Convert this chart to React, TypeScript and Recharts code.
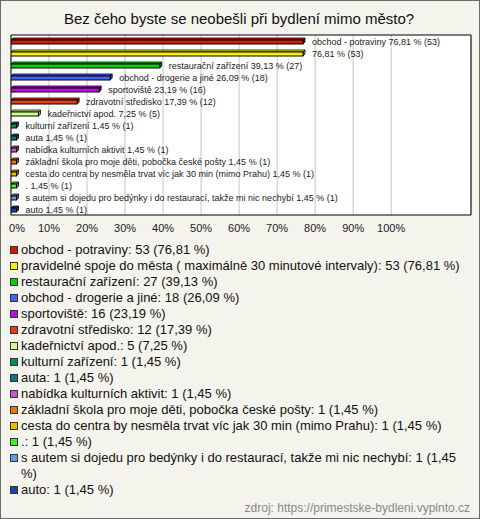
import React from 'react';
import { BarChart, Bar, XAxis, YAxis, CartesianGrid, LabelList, Legend, ReferenceArea } from 'recharts';

const title = 'Bez čeho byste se neobešli při bydlení mimo město?';
const source = 'zdroj: https://primestske-bydleni.vyplnto.cz';

const categories = [
  'obchod - potraviny',
  'pravidelné spoje do města ( maximálně 30 minutové intervaly)',
  'restaurační zařízení',
  'obchod - drogerie a jiné',
  'sportoviště',
  'zdravotní středisko',
  'kadeřnictví apod.',
  'kulturní zařízení',
  'auta',
  'nabídka kulturních aktivit',
  'základní škola pro moje děti, pobočka české pošty',
  'cesta do centra by nesměla trvat víc jak 30 min (mimo Prahu)',
  '.',
  's autem si dojedu pro bedýnky i do restaurací, takže mi nic nechybí',
  'auto',
];
const counts = [53, 53, 27, 18, 16, 12, 5, 1, 1, 1, 1, 1, 1, 1, 1];
const percents = [76.81, 76.81, 39.13, 26.09, 23.19, 17.39, 7.25, 1.45, 1.45, 1.45, 1.45, 1.45, 1.45, 1.45, 1.45];
const colors = [
  '#c8200a', '#ffee00', '#11cc11', '#4466ee', '#bb11dd', '#e64010', '#ccff88', '#118855',
  '#117788', '#cc55cc', '#ee7700', '#eebb00', '#44ee22', '#6699ee', '#2244aa',
];
const labelShowsName = [true, false, true, true, true, true, true, true, true, true, true, true, true, true, true];
const xTicks = [0, 10, 20, 30, 40, 50, 60, 70, 80, 90, 100];
const X_MAX = 121;

const FONT = '"Liberation Sans", Arial, sans-serif';
const fmt = (v: number) => v.toFixed(2).replace('.', ',');

const data = categories.map((name, i) => ({
  name,
  pct: percents[i],
  count: counts[i],
  color: colors[i],
  label: `${labelShowsName[i] ? name + ' ' : ''}${fmt(percents[i])} % (${counts[i]})`,
}));

function darken(hex: string, f = 0.7) {
  const n = parseInt(hex.slice(1), 16);
  const r = Math.round(((n >> 16) & 255) * f);
  const g = Math.round(((n >> 8) & 255) * f);
  const b = Math.round((n & 255) * f);
  return `rgb(${r},${g},${b})`;
}

const Bar3D = (props: any) => {
  const { x, y, width, height, index } = props;
  const d = 2;
  const c = colors[index];
  const w = Math.max(width, 0);
  const fy = y + d;
  const fh = height - d;
  return (
    <g>
      <path d={`M${x},${fy} L${x + d},${y} L${x + w + d},${y} L${x + w},${fy} Z`} fill={c} stroke="#000" strokeWidth={0.8} />
      <path d={`M${x + w},${fy} L${x + w + d},${y} L${x + w + d},${y + fh} L${x + w},${fy + fh} Z`} fill={darken(c)} stroke="#000" strokeWidth={0.8} />
      <rect x={x} y={fy} width={w} height={fh} fill={c} stroke="#000" strokeWidth={1} />
    </g>
  );
};

const renderLabel = (p: any) => {
  const vb = p.viewBox || p;
  const { x, y, width, height } = vb;
  return (
    <text x={x + width + 9} y={y + height / 2 + 1} dominantBaseline="central" fontSize={9} fontFamily={FONT} fill="#222">
      {p.value}
    </text>
  );
};

const XTick = (p: any) => {
  const { x, y, payload } = p;
  return (
    <text x={x + (payload.value === 0 ? 6 : 0)} y={y} dy="0.71em" textAnchor="middle" fontSize={11} fontFamily={FONT} fill="#222">
      {payload.value}%
    </text>
  );
};

const LegendContent = () => (
  <div style={{ fontFamily: FONT, fontSize: 13, lineHeight: '16px', color: '#111', textAlign: 'left' }}>
    {data.map((d) => (
      <div key={d.name} style={{ display: 'flex', alignItems: 'flex-start', paddingLeft: 10 }}>
        <span
          style={{
            width: 6,
            height: 6,
            border: '1px solid #333',
            background: d.color,
            marginTop: 4,
            marginRight: 3,
            flex: 'none',
          }}
        />
        <span style={{ width: 452 }}>
          {d.name}: {d.count} ({fmt(d.pct)} %)
        </span>
      </div>
    ))}
  </div>
);

export default function App() {
  return (
    <div
      style={{
        position: 'absolute',
        left: 0,
        top: 0,
        width: 480,
        height: 519,
        background: '#f4f3ec',
        boxShadow: 'inset 0 0 0 1px #6b6b6b',
        fontFamily: FONT,
      }}
    >
      <div
        style={{
          position: 'absolute',
          top: 10,
          left: 0,
          width: 478,
          textAlign: 'center',
          fontSize: 15,
          lineHeight: '18px',
          color: '#111',
        }}
      >
        {title}
      </div>
      <div style={{ position: 'absolute', left: 0, top: 0 }}>
        <BarChart
          width={480}
          height={519}
          data={data}
          layout="vertical"
          margin={{ top: 35, left: 11, right: 9, bottom: 274 }}
          barCategoryGap={0}
        >
          <CartesianGrid horizontal={false} vertical stroke="#c4c4c4" fill="#ffffff" />
          <XAxis
            type="number"
            domain={[0, X_MAX]}
            ticks={xTicks}
            allowDataOverflow
            axisLine={false}
            tickLine={false}
            tickSize={6}
            tickMargin={3}
            height={30}
            tick={<XTick />}
            interval={0}
          />
          <YAxis type="category" dataKey="name" hide width={0} />
          <Bar dataKey="pct" barSize={6} shape={<Bar3D />} isAnimationActive={false}>
            <LabelList dataKey="label" content={renderLabel} />
          </Bar>
          <ReferenceArea x1={0} x2={X_MAX} fill="none" stroke="#000" strokeWidth={1} fillOpacity={0} />
          <Legend
            layout="horizontal"
            verticalAlign="middle"
            align="center"
            content={<LegendContent />}
            wrapperStyle={{ top: 241.5, left: 0, width: 480 }}
          />
        </BarChart>
      </div>
      <div
        style={{
          position: 'absolute',
          right: 10,
          top: 500,
          fontSize: 12,
          lineHeight: '16px',
          color: '#888',
        }}
      >
        {source}
      </div>
    </div>
  );
}
